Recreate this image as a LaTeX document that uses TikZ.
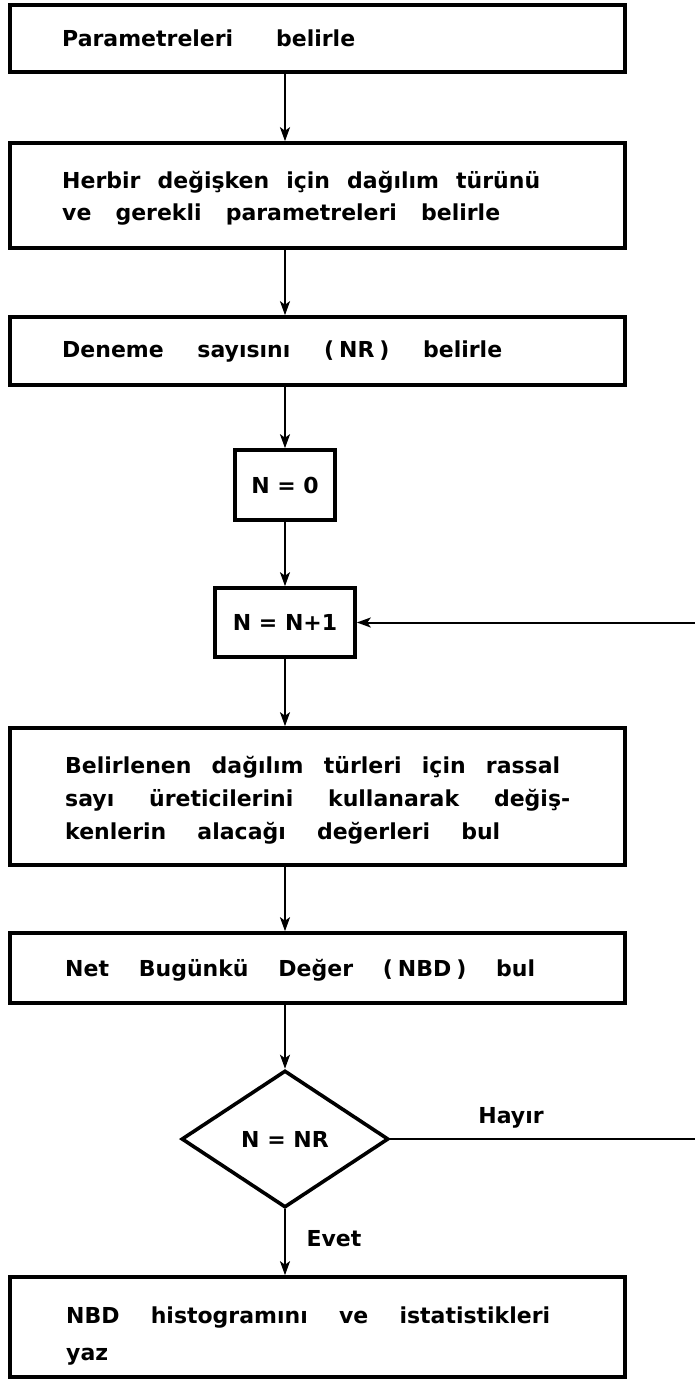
\documentclass[tikz,border=0pt]{standalone}
\usepackage{fontspec}
\setmainfont{DejaVu Sans}
\usetikzlibrary{shapes.geometric,arrows.meta}
\newcommand\jl[2]{\makebox[#1][s]{#2}}
\newcommand\fs{\bfseries\fontsize{22}{26}\selectfont}
\begin{document}
\begin{tikzpicture}[x=1pt,y=-1pt,
  box/.style={draw, line width=3.6pt, minimum width=615pt, inner sep=0pt},
  sbox/.style={draw, line width=3.6pt, inner sep=0pt, font=\fs},
  conn/.style={line width=2pt, -{Stealth[length=14pt,width=10pt,inset=3.5pt]}},
  txt/.style={anchor=base west, inner sep=0pt, font=\fs},
  lbl/.style={inner sep=0pt, font=\fs}]
\useasboundingbox (0,0) rectangle (695,1379);
% boxes
\node[box, minimum height=67pt] (b1) at (317.5,38.5) {};
\node[box, minimum height=105pt] (b2) at (317.5,195.5) {};
\node[box, minimum height=68pt] (b3) at (317.5,351) {};
\node[sbox, minimum width=100pt, minimum height=70pt] (n0) at (285,485) {N = 0};
\node[sbox, minimum width=140pt, minimum height=69pt] (n1) at (285,622.5) {N = N+1};
\node[box, minimum height=137pt] (b4) at (317.5,796.5) {};
\node[box, minimum height=70pt] (b5) at (317.5,968) {};
\node[draw, diamond, line width=3.6pt, inner sep=0pt, aspect=1.51,
      minimum width=207pt, minimum height=137pt, font=\fs] (dia) at (285,1139) {N = NR};
\node[box, minimum height=100pt] (bf) at (317.5,1327) {};
% texts
\node[txt] (t1) at (62,46) {\jl{293pt}{Parametreleri belirle}};
\node[txt] (t2a) at (62,188) {\jl{478pt}{Herbir değişken için dağılım türünü}};
\node[txt] (t2b) at (62,220) {\jl{438pt}{ve gerekli parametreleri belirle}};
\node[txt] (t3) at (62,357) {\jl{440pt}{Deneme sayısını (\hspace{5pt}NR\hspace{5pt}) belirle}};
\node[txt] (t4a) at (65,773) {\jl{495pt}{Belirlenen dağılım türleri için rassal}};
\node[txt] (t4b) at (65,806) {\jl{505pt}{sayı üreticilerini kullanarak değiş-}};
\node[txt] (t4c) at (65,839) {\jl{435pt}{kenlerin alacağı değerleri bul}};
\node[txt] (t5) at (65,976) {\jl{470pt}{Net Bugünkü Değer (\hspace{5pt}NBD\hspace{5pt}) bul}};
\node[txt] (tfa) at (66,1323) {\jl{484pt}{NBD histogramını ve istatistikleri}};
\node[txt] (tfb) at (66,1360) {yaz};
\node[lbl] (hayir) at (511,1118) {Hayır};
\node[lbl] (evet) at (334,1239) {Evet};
% connectors
\draw[conn] (b1.south -| dia.north) -- (b2.north -| dia.north);
\draw[conn] (b2.south -| dia.north) -- (b3.north -| dia.north);
\draw[conn] (b3.south -| dia.north) -- (n0.north);
\draw[conn] (n0.south) -- (n1.north);
\draw[conn] (n1.south) -- (b4.north -| n1.south);
\draw[conn] (b4.south -| dia.north) -- (b5.north -| dia.north);
\draw[conn] (b5.south -| dia.north) -- (dia.north);
\draw[conn] (dia.south) -- (bf.north -| dia.south);
\coordinate (rt) at (710,1139);
\draw[conn] (dia.east) -- (rt) |- (n1.east);
\end{tikzpicture}
\end{document}
